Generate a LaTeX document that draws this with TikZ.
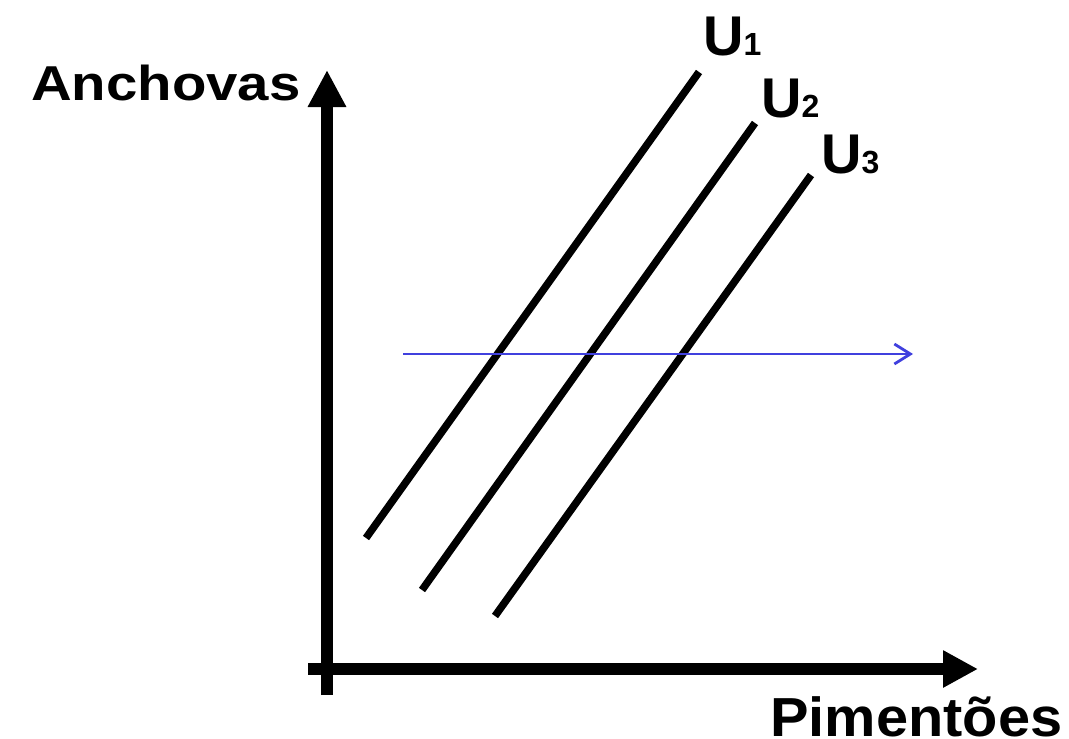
\documentclass[tikz,border=0pt]{standalone}
\usepackage{fontspec}
\setmainfont{Liberation Sans}
\usetikzlibrary{arrows.meta}
\definecolor{budgetblue}{RGB}{64,64,222}
\tikzset{
  axisline/.style={line width=12pt},
  indiff/.style={line width=7.5pt},
  budget/.style={budgetblue,line width=2.8pt,-{Straight Barb[length=16pt,width=20pt]}},
  lbl/.style={inner sep=0pt,anchor=base west,font=\bfseries},
}
\newcommand{\ulabel}[1]{\fontsize{56}{56}\selectfont U{\fontsize{32}{32}\selectfont #1}}

\begin{document}
\begin{tikzpicture}[x=1pt,y=-1pt]
  \useasboundingbox (0,0) rectangle (1069,739);
  % axes
  \coordinate (yb) at (327,695);
  \coordinate (yt) at (327,70);
  \coordinate (xl) at (308,669);
  \coordinate (xr) at (978,669);
  \draw[axisline,-{Triangle[length=37pt,width=36pt]}] (yb) -- (yt);
  \draw[axisline,-{Triangle[length=35pt,width=35pt]}] (xl) -- (xr);
  \node[lbl] (ylab) at (31,100) {\scalebox{1.15}[1]{\fontsize{49}{49}\selectfont Anchovas}};
  \node[lbl] (xlab) at (770,736) {\scalebox{1.05}[1]{\fontsize{55}{55}\selectfont Pimentões}};
  % indifference lines
  \coordinate (a1) at (366,538); \coordinate (b1) at (699,72);
  \coordinate (a2) at (422,590); \coordinate (b2) at (755,123);
  \coordinate (a3) at (495,616); \coordinate (b3) at (811,175);
  \foreach \k in {1,2,3}{
    \draw[indiff] (a\k) -- (b\k);
  }
  \node[lbl] (u1) at (703,55) {\ulabel{1}};
  \node[lbl] (u2) at (761,117) {\ulabel{2}};
  \node[lbl] (u3) at (821,173) {\ulabel{3}};
  % horizontal arrow
  \coordinate (hs) at (403,354);
  \coordinate (he) at (913,354);
  \draw[budget] (hs) -- (he);
\end{tikzpicture}
\end{document}
